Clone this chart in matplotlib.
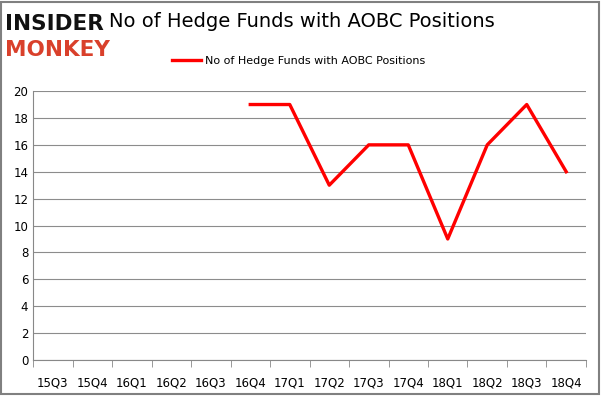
import numpy as np
import matplotlib.pyplot as plt
from matplotlib.patches import Rectangle

quarters = ['15Q3', '15Q4', '16Q1', '16Q2', '16Q3', '16Q4', '17Q1',
            '17Q2', '17Q3', '17Q4', '18Q1', '18Q2', '18Q3', '18Q4']
funds = [np.nan, np.nan, np.nan, np.nan, np.nan, 19, 19,
         13, 16, 16, 9, 16, 19, 14]
y_ticks = [0, 2, 4, 6, 8, 10, 12, 14, 16, 18, 20]

fig = plt.figure(figsize=(6.01, 3.96), dpi=100)
fig.patches.append(Rectangle((0.002, 0.004), 0.995, 0.992, transform=fig.transFigure,
                             fill=False, edgecolor='#808080', linewidth=1.5))

ax = fig.add_axes([0.055, 0.091, 0.920, 0.679])
xx = np.arange(len(quarters))
ax.plot(xx, funds, color='#ff0000', linewidth=2.4, label='No of Hedge Funds with AOBC Positions')

ax.set_xlim(-0.5, len(quarters) - 0.5)
ax.set_ylim(0, 20)
ax.set_yticks(y_ticks)
ax.set_xticks(xx)
ax.set_xticklabels(quarters, fontsize=8.5)
ax.set_xticks(np.arange(len(quarters) + 1) - 0.5, minor=True)
ax.tick_params(axis='x', which='major', length=0, pad=12)
ax.tick_params(axis='x', which='minor', length=5, color='#888888')
ax.tick_params(axis='y', length=0, labelsize=8.5)
ax.grid(axis='y', color='#8c8c8c', linewidth=0.8)
ax.set_axisbelow(True)
for side in ['top', 'right']:
    ax.spines[side].set_visible(False)
ax.spines['left'].set_color('#888888')
ax.spines['bottom'].set_color('#888888')

fig.text(0.502, 0.945, 'No of Hedge Funds with AOBC Positions', ha='center', va='center',
         fontsize=14, fontweight='medium')
fig.legend(loc='center', bbox_to_anchor=(0.497, 0.845), frameon=False, fontsize=8,
           handlelength=2.6, handletextpad=0.4)

fig.text(0.008, 0.94, 'INSIDER', fontsize=15.5, fontweight='heavy', color='#111111',
         va='center', ha='left')
fig.text(0.008, 0.875, 'MONKEY', fontsize=15.5, fontweight='heavy', color='#d9402b',
         va='center', ha='left')

fig.savefig('out.png', dpi=100)
